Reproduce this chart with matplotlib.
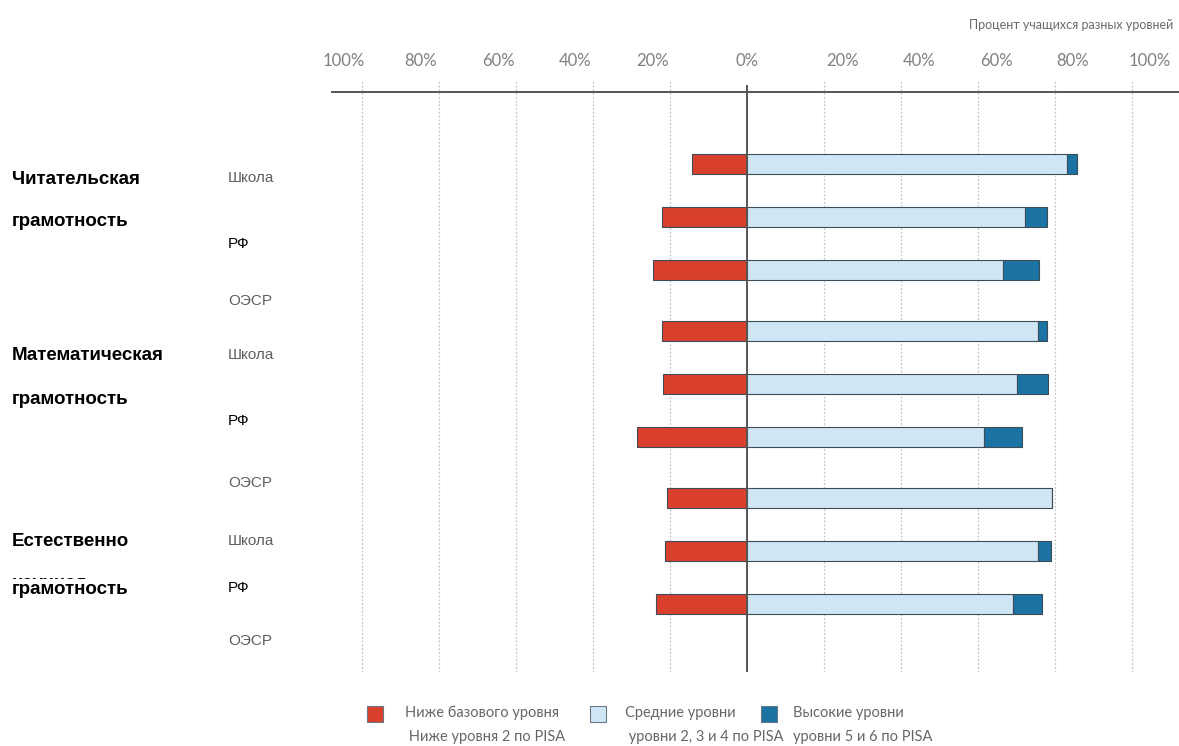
import matplotlib

matplotlib.use("Agg")
import matplotlib.pyplot as plt
from matplotlib.patches import Rectangle
from matplotlib.transforms import ScaledTranslation

# Доли учащихся (%), порядок: Читательская / Математическая / Естественнонаучная, в каждой Школа, РФ, ОЭСР
below = [14.4, 22.2, 24.3, 22.2, 21.7, 28.7, 20.9, 21.3, 23.6]
middle = [83.0, 72.2, 66.4, 75.7, 70.0, 61.6, 79.3, 75.7, 69.2]
high = [2.6, 5.6, 9.4, 2.1, 8.3, 9.7, 0.0, 3.2, 7.3]
ypos = [0, 1, 2, 3.15, 4.15, 5.15, 6.3, 7.3, 8.3]

ticks = [-100, -80, -60, -40, -20, 0, 20, 40, 60, 80, 100]
tick_labels = ["100%", "80%", "60%", "40%", "20%", "0%", "20%", "40%", "60%", "80%", "100%"]

RED, LIGHT, DARK, EDGE = "#d8402c", "#cfe7f5", "#1b73a3", "#3e4b58"
W, H = 1179, 746

fig = plt.figure(figsize=(W / 100, H / 100), dpi=100)
ax = fig.add_axes([332 / W, 1 - 672 / H, 1 - 332 / W, (672 - 80) / H])

hgt = 0.38
ax.barh(ypos, [-b for b in below], height=hgt, color=RED, edgecolor=EDGE, lw=0.8, zorder=3)
ax.barh(ypos, middle, height=hgt, color=LIGHT, edgecolor=EDGE, lw=0.8, zorder=3)
ax.barh(ypos, high, left=middle, height=hgt, color=DARK, edgecolor=EDGE, lw=0.8, zorder=3)

ax.set_xlim(-107.8, 112.2)
ax.set_ylim(9.585, -1.585)
for t in ticks:
    if t != 0:
        ax.axvline(t, color="#c4c4c4", lw=0.9, ls=(0, (1.5, 1.5)), zorder=1)
ax.axvline(0, color="#555555", lw=1.4, zorder=4, ymin=0.0, ymax=0.99)
ax.plot([0, 1], [0.98, 0.98], transform=ax.transAxes, color="#555555", lw=1.4, clip_on=False)

ax.set_yticks([])
ax.set_xticks(ticks)
ax.set_xticklabels(tick_labels, fontsize=12, color="#808080", family=["Lato", "DejaVu Sans"])
ax.xaxis.tick_top()
ax.tick_params(axis="x", length=0, pad=8)
# подписи шкалы сдвинуты относительно линий сетки, как в исходнике
for t, lab in zip(ticks, ax.get_xticklabels()):
    shift = -18 if t < 0 else (18 if t > 0 else 0)
    lab.set_transform(lab.get_transform() + ScaledTranslation(shift / 100, 0, fig.dpi_scale_trans))
for s in ax.spines.values():
    s.set_visible(False)

fig.text(1173 / W, 1 - 25 / H, "Процент учащихся разных уровней", ha="right", va="center",
         fontsize=9, color="#6a6a6a", family=["Lato", "DejaVu Sans"])

# подписи групп слева
bold = dict(fontsize=13.5, fontweight="bold", family="Liberation Sans", color="black", va="center", ha="left")
fig.text(12 / W, 1 - 179 / H, "Читательская", **bold)
fig.text(12 / W, 1 - 221 / H, "грамотность", **bold)
fig.text(12 / W, 1 - 356 / H, "Математическая", **bold)
fig.text(12 / W, 1 - 400 / H, "грамотность", **bold)
fig.text(12 / W, 1 - 541 / H, "Естественно", **bold)
fig.text(12 / W, 1 - 583 / H, "научная", **bold)
fig.text(12 / W, 1 - 590 / H, "грамотность",
         bbox=dict(facecolor="white", edgecolor="none", pad=1.5), **bold)

sub = dict(fontsize=11, family="Liberation Sans", va="center", ha="left")
for py, name in [(178, "Школа"), (244, "РФ"), (301, "ОЭСР"),
                 (355, "Школа"), (421, "РФ"), (483, "ОЭСР"),
                 (541, "Школа"), (588, "РФ"), (641, "ОЭСР")]:
    fig.text(228 / W, 1 - py / H, name, color="black" if name == "РФ" else "#5e5e5e", **sub)

# легенда
leg = dict(fontsize=10.5, color="#666666", family=["Lato", "DejaVu Sans"], va="center", ha="left")
for sx, col, tx, l1, l2 in [(367, RED, 405, "Ниже базового уровня", " Ниже уровня 2 по PISA"),
                            (590, LIGHT, 625, "Средние уровни", " уровни 2, 3 и 4 по PISA"),
                            (761, DARK, 793, "Высокие уровни", "уровни 5 и 6 по PISA")]:
    fig.add_artist(Rectangle((sx / W, 1 - 722 / H), 16 / W, 16 / H, transform=fig.transFigure,
                             facecolor=col, edgecolor="#6b7785", lw=0.8))
    fig.text(tx / W, 1 - 713 / H, l1, **leg)
    fig.text(tx / W, 1 - 737 / H, l2, **leg)

fig.savefig("out.png", dpi=100)
